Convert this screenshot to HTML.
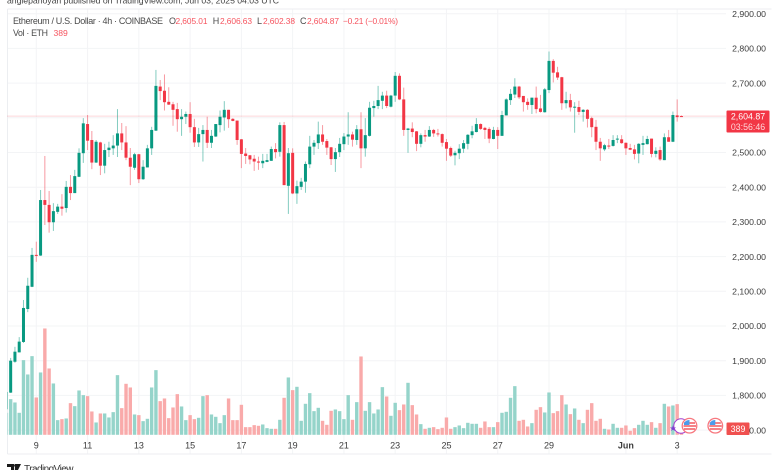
<!DOCTYPE html>
<html lang="en">
<head>
<meta charset="utf-8">
<title>Ethereum / U.S. Dollar 4h chart</title>
<style>
html,body{margin:0;padding:0;background:#fff;}
body{width:780px;height:470px;overflow:hidden;position:relative;}
svg{position:absolute;left:0;top:0;display:block;filter:blur(0.3px);}
text{font-family:"Liberation Sans",sans-serif;}
</style>
</head>
<body>
<svg id="chart" width="780" height="470" viewBox="0 0 780 470" xmlns="http://www.w3.org/2000/svg">
  <defs><clipPath id="pane-clip"><rect x="7.5" y="9" width="718.5" height="445"/></clipPath></defs>
  <text x="7" y="3.5" font-size="8.7" fill="#444" textLength="272">angiepanoyan published on TradingView.com, Jun 03, 2025 04:03 UTC</text>
  <g id="grid"></g>
  <path d="M7.5 9H771.5M7.5 9V454M7.5 454H771.5" fill="none" stroke="#eceef1" stroke-width="1"/>
  <g clip-path="url(#pane-clip)">
    <g id="volumes"></g>
    <line id="price-line" x1="7.5" x2="726" stroke="#f23645" stroke-opacity="0.4" stroke-width="1" stroke-dasharray="1 1"/>
    <g id="candles"></g>
  </g>
  <g id="y-ticks"></g>
  <g id="x-ticks"></g>

  <g>
    <text x="13" y="24" font-size="9" fill="#4a4a4a" textLength="150">Ethereum / U.S. Dollar · 4h · COINBASE</text>
    <text x="169" y="24" font-size="9" fill="#4a4a4a">O</text>
    <text x="175.5" y="24" font-size="8.4" fill="#f6545f" textLength="32">2,605.01</text>
    <text x="212.7" y="24" font-size="9" fill="#4a4a4a">H</text>
    <text x="220" y="24" font-size="8.4" fill="#f6545f" textLength="32">2,606.63</text>
    <text x="257" y="24" font-size="9" fill="#4a4a4a">L</text>
    <text x="263" y="24" font-size="8.4" fill="#f6545f" textLength="32">2,602.38</text>
    <text x="300" y="24" font-size="9" fill="#4a4a4a">C</text>
    <text x="307" y="24" font-size="8.4" fill="#f6545f" textLength="32">2,604.87</text>
    <text x="343" y="24" font-size="8.4" fill="#f6545f" textLength="55">−0.21 (−0.01%)</text>
    <text x="13" y="36" font-size="8.8" fill="#4a4a4a" textLength="35">Vol · ETH</text>
    <text x="53.5" y="36" font-size="8.6" fill="#f6545f">389</text>
  </g>

  <g>
    <rect x="726.5" y="110.5" width="43" height="22" rx="1" fill="#f23645"/>
    <text x="748" y="119.3" font-size="8.8" fill="#fff" text-anchor="middle">2,604.87</text>
    <text x="748" y="130" font-size="8.8" fill="#ffd6d9" text-anchor="middle">03:56:46</text>
  </g>
  <g>
    <rect x="726.5" y="422.5" width="23" height="12.5" rx="1" fill="#f0504f"/>
    <text x="738" y="431.8" font-size="8.8" fill="#fff" text-anchor="middle">389</text>
  </g>

  <g>
    <circle cx="681" cy="426" r="7.2" fill="#fff" stroke="#a13fd0" stroke-width="1"/>
    <text x="673" y="431" font-size="8" fill="#7b3fd0" text-anchor="middle">★</text>
    <g>
      <circle cx="689.5" cy="425.7" r="7.3" fill="#fff" stroke="#f7787f" stroke-width="1.3"/>
      <path d="M684 423H695M683.5 426H696M684 429H695" stroke="#f2585f" stroke-width="1.4"/>
      <path d="M684 425V423.2A6 6 0 0 1 689.5 420V425Z" fill="#4a9cec"/>
    </g>
    <g>
      <circle cx="715.3" cy="425.7" r="7.3" fill="#fff" stroke="#f7787f" stroke-width="1.3"/>
      <path d="M709.8 423H720.8M709.3 426H721.8M709.8 429H720.8" stroke="#f2585f" stroke-width="1.4"/>
      <path d="M709.8 425V423.2A6 6 0 0 1 715.3 420V425Z" fill="#4a9cec"/>
    </g>
  </g>

  <g>
    <path d="M7 464H14V470H11V467H7ZM15 464H21L18 470H14.8Z" fill="#1a1a1a"/>
    <circle cx="15.5" cy="465.5" r="1.4" fill="#1a1a1a"/>
    <text x="24" y="472" font-size="10" fill="#333" textLength="49.5">TradingView</text>
  </g>
</svg>
<script>
const opens = [1760,1808,1897,1924,1954,2049,2113,2205,2203,2363,2349,2299,2329,2344,2340,2401,2383,2430,2498,2582,2536,2471,2529,2462,2507,2512,2520,2555,2529,2485,2456,2495,2423,2457,2512,2563,2690,2678,2646,2639,2625,2596,2603,2611,2573,2529,2553,2565,2528,2546,2579,2601,2623,2597,2592,2538,2497,2492,2482,2474,2469,2473,2476,2510,2502,2579,2404,2499,2382,2401,2416,2466,2517,2527,2552,2533,2515,2481,2501,2524,2546,2552,2536,2567,2512,2548,2628,2634,2649,2664,2632,2664,2721,2653,2565,2569,2561,2525,2550,2546,2565,2555,2553,2530,2513,2492,2498,2511,2525,2550,2559,2582,2571,2568,2539,2565,2548,2607,2651,2667,2690,2663,2646,2637,2658,2627,2616,2680,2764,2731,2717,2642,2651,2630,2631,2617,2623,2599,2574,2531,2509,2520,2519,2538,2538,2528,2513,2509,2497,2522,2524,2540,2496,2507,2478,2544,2531,2607,2605.01];
const closes = [1810,1900,1926,1955,2052,2116,2205,2202,2363,2349,2299,2331,2344,2338,2401,2383,2432,2499,2584,2534,2471,2531,2462,2507,2514,2520,2555,2529,2485,2459,2495,2423,2459,2512,2565,2692,2677,2645,2638,2623,2596,2603,2611,2573,2529,2553,2565,2528,2548,2582,2603,2623,2596,2591,2536,2496,2490,2480,2474,2471,2476,2478,2510,2501,2579,2406,2498,2382,2403,2416,2467,2517,2528,2552,2531,2514,2481,2501,2525,2546,2552,2537,2567,2512,2550,2629,2634,2651,2664,2634,2664,2721,2653,2565,2569,2559,2525,2550,2546,2565,2555,2553,2528,2511,2491,2499,2511,2527,2551,2561,2582,2568,2565,2540,2565,2548,2608,2653,2669,2690,2659,2645,2637,2658,2625,2617,2682,2764,2730,2716,2642,2651,2630,2632,2617,2623,2597,2573,2531,2512,2521,2519,2536,2540,2527,2512,2508,2496,2525,2527,2539,2496,2505,2480,2544,2531,2608,2602,2604.87];
const highs = [1812,1908,1940,1968,2075,2139,2225,2243,2392,2490,2389,2354,2352,2380,2418,2435,2450,2512,2599,2608,2562,2536,2531,2525,2531,2550,2625,2585,2576,2513,2499,2496,2478,2522,2574,2738,2709,2725,2688,2646,2643,2625,2618,2645,2597,2571,2579,2603,2565,2582,2621,2648,2623,2599,2592,2539,2513,2493,2493,2488,2496,2496,2517,2527,2587,2588,2513,2512,2419,2427,2474,2548,2536,2589,2579,2539,2516,2513,2542,2556,2616,2560,2579,2616,2599,2646,2649,2692,2675,2678,2666,2732,2728,2687,2571,2587,2562,2555,2565,2576,2568,2568,2555,2539,2517,2505,2524,2536,2553,2577,2599,2584,2574,2573,2574,2573,2620,2656,2683,2714,2692,2663,2656,2658,2690,2666,2686,2791,2769,2747,2718,2675,2669,2645,2649,2625,2625,2603,2594,2542,2525,2539,2550,2550,2550,2529,2525,2522,2527,2548,2548,2540,2515,2517,2555,2565,2618,2653,2606.63];
const lows = [1750,1807,1894,1924,1951,2040,2112,2185,2202,2291,2269,2274,2323,2318,2327,2363,2383,2429,2470,2507,2452,2470,2435,2440,2487,2493,2487,2507,2478,2406,2450,2412,2421,2457,2493,2562,2651,2621,2637,2577,2560,2548,2582,2557,2516,2516,2474,2513,2513,2545,2558,2563,2571,2590,2522,2455,2467,2466,2447,2450,2455,2472,2476,2483,2488,2406,2323,2380,2352,2392,2384,2455,2493,2510,2522,2493,2464,2444,2487,2507,2522,2517,2522,2455,2488,2546,2603,2625,2625,2628,2630,2646,2651,2548,2499,2544,2504,2515,2531,2545,2545,2546,2517,2476,2487,2463,2481,2499,2509,2541,2558,2565,2539,2527,2538,2510,2548,2607,2637,2657,2654,2618,2623,2611,2613,2615,2615,2671,2702,2709,2623,2627,2618,2557,2608,2589,2572,2544,2507,2476,2504,2510,2517,2527,2525,2493,2507,2480,2469,2493,2523,2486,2486,2476,2478,2531,2530,2589,2602.38];
const volumes = [66,107,97,66,224,181,236,112,187,319,199,154,44,47,49,95,86,133,119,116,70,37,64,64,52,68,179,80,153,142,61,59,41,48,142,194,101,109,50,82,122,85,44,59,47,51,116,119,61,54,35,59,109,44,44,90,23,23,29,27,31,20,18,18,45,111,172,134,144,42,93,125,71,81,42,30,72,76,71,47,119,45,98,235,72,98,64,76,143,115,57,96,74,91,156,89,61,32,18,21,23,17,21,52,18,23,28,20,36,33,33,21,40,23,23,38,66,69,111,146,42,45,25,35,75,83,67,127,65,71,119,91,62,79,45,35,75,95,42,48,18,16,33,21,21,28,12,20,30,42,30,38,21,35,93,85,88,92,5];
const priceTicks = [2900,2800,2700,2600,2500,2400,2300,2200,2100,2000,1900,1800,1700];
const timeTickBars = [7,19,31,43,55,67,79,91,103,115,127,145,157];
const timeTickLabels = ['9','11','13','15','17','19','21','23','25','27','29','Jun','3'];
const lastPrice = 2604.87;

const SVG_NS = 'http://www.w3.org/2000/svg';
const PANE_BOTTOM = 454;
const PANE_TOP = 9;
const AXIS_LEFT = 726;
const VOLUME_BASE = 434.8;
const xAt = function (i) { return 36.3 + (i - 7) * 4.2725; };
const yPrice = function (p) { return 48.4 + (2800 - p) * 0.347; };
const yVolume = function (v) { return VOLUME_BASE - v / 3; };

function make(tag, attrs, parent) {
  const el = document.createElementNS(SVG_NS, tag);
  Object.keys(attrs).forEach(function (k) { el.setAttribute(k, attrs[k]); });
  parent.appendChild(el);
  return el;
}

const gridGroup = document.getElementById('grid');
priceTicks.forEach(function (p) {
  const line = make('line', { x1: 7.5, x2: AXIS_LEFT, y1: yPrice(p), y2: yPrice(p), stroke: '#f3f4f6', 'stroke-width': 1 }, gridGroup);
  
  
});
timeTickBars.forEach(function (b) {
  const line = make('line', { x1: xAt(b), x2: xAt(b), y1: PANE_TOP, y2: PANE_BOTTOM, stroke: '#f3f4f6', 'stroke-width': 1 }, gridGroup);
  
  
});

const yTickGroup = document.getElementById('y-ticks');
priceTicks.forEach(function (p) {
  const t = make('text', { x: 766, y: yPrice(p) + 3.2, 'font-size': 8.7, fill: '#3c3c3c', 'text-anchor': 'end' }, yTickGroup);
  
  
  t.textContent = p.toLocaleString('en-US', { minimumFractionDigits: 2, maximumFractionDigits: 2 });
});

const xTickGroup = document.getElementById('x-ticks');
timeTickBars.forEach(function (b, k) {
  const t = make('text', { x: xAt(b), y: 448.5, 'font-size': 9, fill: '#3c3c3c', 'text-anchor': 'middle' }, xTickGroup);
  if (timeTickLabels[k] === 'Jun') { t.setAttribute('font-weight', 'bold'); }
  
  
  t.textContent = timeTickLabels[k];
});

const priceLine = document.getElementById('price-line');
priceLine.setAttribute('y1', yPrice(lastPrice));
priceLine.setAttribute('y2', yPrice(lastPrice));

const volumeGroup = document.getElementById('volumes');
volumes.forEach(function (v, i) {
  const up = closes[i] >= opens[i];
  const bar = make('rect', { x: xAt(i) - 1.7, y: yVolume(v), width: 3.4, height: VOLUME_BASE - yVolume(v), fill: up ? '#95d4ca' : '#f9aaaa' }, volumeGroup);
  
  
});

const candleGroup = document.getElementById('candles');
opens.forEach(function (o, i) {
  const c = closes[i];
  const up = c >= o;
  const color = up ? '#089981' : '#f23645';
  const x = xAt(i);
  const wick = make('line', { x1: x, x2: x, y1: yPrice(highs[i]), y2: yPrice(lows[i]), stroke: color, 'stroke-opacity': 0.5, 'stroke-width': 1 }, candleGroup);
  
  
  const top = yPrice(Math.max(o, c));
  const h = Math.max(yPrice(Math.min(o, c)) - top, 1);
  const body = make('rect', { x: x - 1.5, y: top, width: 3, height: h, fill: color }, candleGroup);
  
  
});
</script>
</body>
</html>
